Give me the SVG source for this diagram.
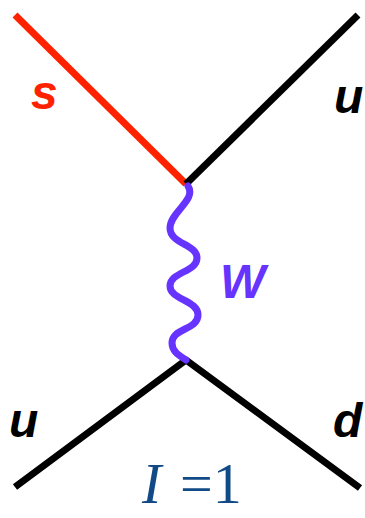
<svg xmlns="http://www.w3.org/2000/svg" width="365" height="518" viewBox="0 0 365 518">
<style>
.line{fill:none;stroke-width:7;stroke-linejoin:round}
.lbl{font-family:"Liberation Sans",Arial,sans-serif;font-weight:bold;font-style:italic;font-size:48px}
.iso{fill:#114a86;font-family:"Liberation Serif","Times New Roman",serif;font-size:58px}
</style>
<rect width="365" height="518" fill="#ffffff"/>
<g id="connectors">
<path class="line" stroke="#ff2200" d="M15,15 L186,184"/>
<path class="line" stroke="#000000" d="M186,184 L358,15"/>
<path class="line" stroke="#000000" d="M15,487 L186,360 L360,488"/>
<path class="line" stroke="#6633ff" stroke-linecap="round" d="M188,186 C197,200 170,212 170,228 C170,244 197,244 197,258 C197,272 170,272 170,286 C170,300 198,300 198,315 C198,330 172,328 172,343 C172,352 180,356 186,360"/>
</g>
<g id="label-s"><text class="lbl" x="31" y="109" fill="#ff2200">s</text></g>
<g id="label-u-top"><text class="lbl" x="334" y="113" fill="#000000">u</text></g>
<g id="label-W"><text class="lbl" x="220" y="298" fill="#6633ff">W</text></g>
<g id="label-u-bottom"><text class="lbl" x="9" y="437" fill="#000000">u</text></g>
<g id="label-d"><text class="lbl" x="333" y="437" fill="#000000">d</text></g>
<g id="isospin">
<text class="iso" x="142" y="503" font-style="italic">I</text>
<text class="iso" x="180" y="503">=1</text>
</g>
</svg>
